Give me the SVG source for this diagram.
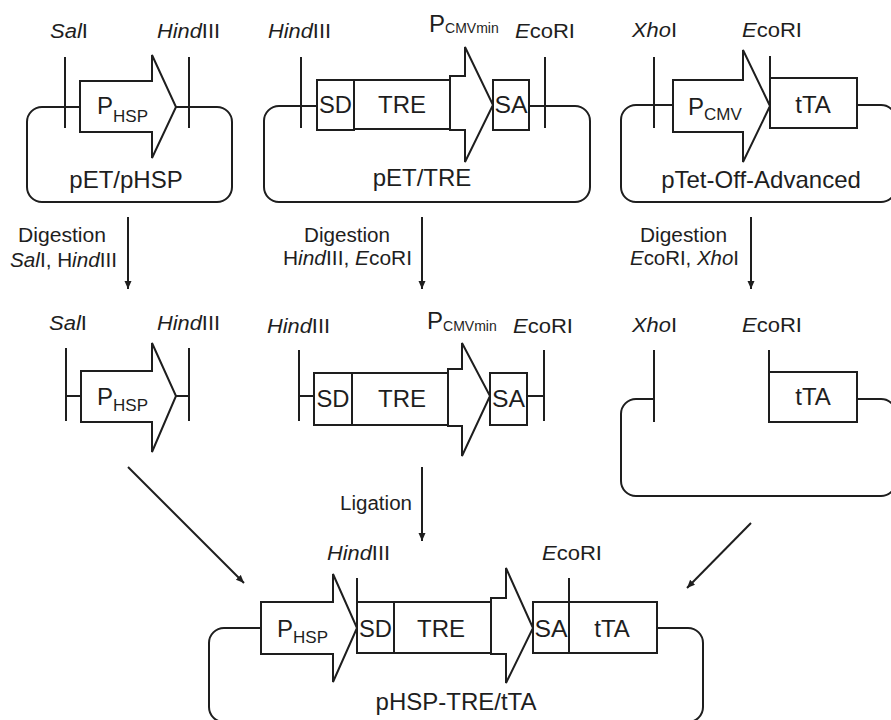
<svg xmlns="http://www.w3.org/2000/svg" width="891" height="720" viewBox="0 0 891 720">
  <style>
    .bb { fill: none; stroke: #1e1e1e; stroke-width: 2; }
    .ln { fill: none; stroke: #1e1e1e; stroke-width: 2; }
    .box { fill: #fff; stroke: #1e1e1e; stroke-width: 2; }
    .ar { fill: none; stroke: #1e1e1e; stroke-width: 2; marker-end: url(#head); }
    text { font-family: "Liberation Sans", Arial, sans-serif; fill: #1e1e1e; }
    .big { font-size: 24px; }
    .sub { font-size: 17px; }
    .subs { font-size: 14px; }
    .enz { font-size: 20px; }
    .mid { text-anchor: middle; }
    .it { font-style: italic; }
  </style>
  <defs>
    <marker id="head" markerUnits="userSpaceOnUse" markerWidth="10" markerHeight="10" refX="8" refY="4" orient="auto">
      <path d="M0,0.5 L8,4 L0,7.5 Z" fill="#1e1e1e"/>
    </marker>
  </defs>
  <rect width="891" height="720" fill="#fff"/>

  <!-- pET/pHSP plasmid -->
  <g id="pET-pHSP">
    <rect class="bb" x="27" y="107" width="205" height="95" rx="15"/>
    <line class="ln" x1="65" y1="57" x2="65" y2="128"/>
    <line class="ln" x1="189" y1="57" x2="189" y2="128"/>
    <path class="box" d="M80,81 H152 V55 L176,107 L152,158 V132 H80 Z"/>
    <text class="big" x="97" y="114">P<tspan class="sub" dy="8">HSP</tspan></text>
    <text class="enz" x="50" y="38" textLength="38" lengthAdjust="spacingAndGlyphs"><tspan class="it">Sal</tspan>I</text>
    <text class="enz" x="157" y="38" textLength="63" lengthAdjust="spacingAndGlyphs"><tspan class="it">Hind</tspan>III</text>
    <text class="big mid" x="126" y="188">pET/pHSP</text>
  </g>

  <!-- pET/TRE plasmid -->
  <g id="pET-TRE">
    <rect class="bb" x="264" y="106" width="326" height="96" rx="15"/>
    <line class="ln" x1="301" y1="57" x2="301" y2="128"/>
    <line class="ln" x1="545" y1="57" x2="545" y2="128"/>
    <rect class="box" x="317" y="80" width="37" height="50"/>
    <rect class="box" x="354" y="80" width="96" height="49"/>
    <path class="box" d="M450,76 H465 V47 L493,105 L465,162 V130 H450 Z"/>
    <rect class="box" x="493" y="80" width="36" height="50"/>
    <text class="big mid" x="335.5" y="113" textLength="33" lengthAdjust="spacingAndGlyphs">SD</text>
    <text class="big mid" x="402" y="113">TRE</text>
    <text class="big mid" x="511" y="113" textLength="33" lengthAdjust="spacingAndGlyphs">SA</text>
    <text class="big" x="429" y="32">P<tspan class="subs" dy="1">CMVmin</tspan></text>
    <text class="enz" x="268" y="38" textLength="63" lengthAdjust="spacingAndGlyphs"><tspan class="it">Hind</tspan>III</text>
    <text class="enz" x="515" y="38" textLength="60" lengthAdjust="spacingAndGlyphs"><tspan class="it">E</tspan>coRI</text>
    <text class="big mid" x="422" y="186">pET/TRE</text>
  </g>

  <!-- pTet-Off-Advanced plasmid -->
  <g id="pTet-Off-Advanced">
    <rect class="bb" x="621" y="105" width="275" height="97" rx="15"/>
    <line class="ln" x1="654" y1="57" x2="654" y2="128"/>
    <line class="ln" x1="770" y1="56" x2="770" y2="78"/>
    <path class="box" d="M673,80 H743 V50 L770,106 L743,162 V132 H673 Z"/>
    <rect class="box" x="770" y="78" width="87" height="50"/>
    <text class="big" x="688" y="115">P<tspan class="sub" dy="5">CMV</tspan></text>
    <text class="big mid" x="813" y="113">tTA</text>
    <text class="enz" x="632" y="37" textLength="45" lengthAdjust="spacingAndGlyphs"><tspan class="it">Xho</tspan>I</text>
    <text class="enz" x="742" y="37" textLength="60" lengthAdjust="spacingAndGlyphs"><tspan class="it">E</tspan>coRI</text>
    <text class="big mid" x="761" y="188">pTet-Off-Advanced</text>
  </g>

  <!-- SalI/HindIII fragment -->
  <g id="frag-PHSP">
    <line class="ln" x1="66" y1="348" x2="66" y2="421"/>
    <line class="ln" x1="189" y1="348" x2="189" y2="421"/>
    <line class="ln" x1="66" y1="396" x2="81" y2="396"/>
    <line class="ln" x1="176" y1="396" x2="189" y2="396"/>
    <path class="box" d="M81,371 H152 V343 L176,396 L152,452 V422 H81 Z"/>
    <text class="big" x="97" y="405">P<tspan class="sub" dy="6">HSP</tspan></text>
    <text class="enz" x="49" y="330" textLength="38" lengthAdjust="spacingAndGlyphs"><tspan class="it">Sal</tspan>I</text>
    <text class="enz" x="157" y="330" textLength="63" lengthAdjust="spacingAndGlyphs"><tspan class="it">Hind</tspan>III</text>
  </g>

  <!-- HindIII/EcoRI fragment -->
  <g id="frag-TRE">
    <line class="ln" x1="299" y1="350" x2="299" y2="421"/>
    <line class="ln" x1="544" y1="350" x2="544" y2="421"/>
    <line class="ln" x1="299" y1="396" x2="314" y2="396"/>
    <line class="ln" x1="527" y1="396" x2="544" y2="396"/>
    <rect class="box" x="314" y="373" width="38" height="52"/>
    <rect class="box" x="352" y="373" width="96" height="52"/>
    <path class="box" d="M448,369 H462 V343 L490,396 L462,456 V426 H448 Z"/>
    <rect class="box" x="490" y="373" width="37" height="52"/>
    <text class="big mid" x="333" y="407" textLength="33" lengthAdjust="spacingAndGlyphs">SD</text>
    <text class="big mid" x="402" y="407">TRE</text>
    <text class="big mid" x="508.5" y="407" textLength="33" lengthAdjust="spacingAndGlyphs">SA</text>
    <text class="big" x="427" y="329">P<tspan class="subs" dy="2">CMVmin</tspan></text>
    <text class="enz" x="267" y="333" textLength="63" lengthAdjust="spacingAndGlyphs"><tspan class="it">Hind</tspan>III</text>
    <text class="enz" x="513" y="333" textLength="60" lengthAdjust="spacingAndGlyphs"><tspan class="it">E</tspan>coRI</text>
  </g>

  <!-- XhoI/EcoRI cut vector -->
  <g id="vector-tTA">
    <path class="bb" d="M654,399 H636 A15,15 0 0 0 621,414 V481 A15,15 0 0 0 636,496 H881 A15,15 0 0 0 896,481 V414 A15,15 0 0 0 881,399 H857"/>
    <line class="ln" x1="654" y1="350" x2="654" y2="422"/>
    <line class="ln" x1="769" y1="350" x2="769" y2="372"/>
    <rect class="box" x="769" y="372" width="88" height="50"/>
    <text class="big mid" x="813" y="405">tTA</text>
    <text class="enz" x="632" y="332" textLength="45" lengthAdjust="spacingAndGlyphs"><tspan class="it">Xho</tspan>I</text>
    <text class="enz" x="742" y="332" textLength="60" lengthAdjust="spacingAndGlyphs"><tspan class="it">E</tspan>coRI</text>
  </g>

  <!-- pHSP-TRE/tTA product -->
  <g id="pHSP-TRE-tTA">
    <rect class="bb" x="209" y="628" width="494" height="94" rx="15"/>
    <line class="ln" x1="357" y1="578" x2="357" y2="602"/>
    <line class="ln" x1="569" y1="578" x2="569" y2="602"/>
    <path class="box" d="M261,602 H333 V574 L357,628 L333,682 V654 H261 Z"/>
    <rect class="box" x="357" y="602" width="37" height="51"/>
    <rect class="box" x="394" y="602" width="97" height="51"/>
    <path class="box" d="M491,598 H506 V568 L533,628 L506,683 V654 H491 Z"/>
    <rect class="box" x="533" y="602" width="36" height="51"/>
    <rect class="box" x="569" y="602" width="88" height="51"/>
    <text class="big" x="277" y="637">P<tspan class="sub" dy="6">HSP</tspan></text>
    <text class="big mid" x="375.5" y="637" textLength="33" lengthAdjust="spacingAndGlyphs">SD</text>
    <text class="big mid" x="441" y="637">TRE</text>
    <text class="big mid" x="551" y="637" textLength="33" lengthAdjust="spacingAndGlyphs">SA</text>
    <text class="big mid" x="612" y="637">tTA</text>
    <text class="enz" x="327" y="560" textLength="63" lengthAdjust="spacingAndGlyphs"><tspan class="it">Hind</tspan>III</text>
    <text class="enz" x="542" y="560" textLength="60" lengthAdjust="spacingAndGlyphs"><tspan class="it">E</tspan>coRI</text>
    <text class="big mid" x="456" y="710">pHSP-TRE/tTA</text>
  </g>

  <!-- process arrows and step labels -->
  <g id="connectors">
    <line class="ar" x1="128" y1="217" x2="128" y2="289"/>
    <line class="ar" x1="422" y1="217" x2="422" y2="289"/>
    <line class="ar" x1="751" y1="217" x2="751" y2="289"/>
    <line class="ar" x1="422" y1="467" x2="422" y2="541"/>
    <line class="ar" x1="128" y1="467" x2="244" y2="583"/>
    <line class="ar" x1="751" y1="523" x2="687" y2="588"/>
    <text class="enz mid" x="62" y="242" textLength="88" lengthAdjust="spacingAndGlyphs">Digestion</text>
    <text class="enz mid" x="63.5" y="267" textLength="107" lengthAdjust="spacingAndGlyphs"><tspan class="it">Sal</tspan>I, H<tspan class="it">ind</tspan>III</text>
    <text class="enz mid" x="347" y="242" textLength="86" lengthAdjust="spacingAndGlyphs">Digestion</text>
    <text class="enz mid" x="347.5" y="265" textLength="129" lengthAdjust="spacingAndGlyphs">H<tspan class="it">ind</tspan>III, <tspan class="it">E</tspan>coRI</text>
    <text class="enz mid" x="683.5" y="242" textLength="87" lengthAdjust="spacingAndGlyphs">Digestion</text>
    <text class="enz mid" x="684.5" y="265" textLength="109" lengthAdjust="spacingAndGlyphs"><tspan class="it">E</tspan>coRI, <tspan class="it">Xho</tspan>I</text>
    <text class="enz mid" x="376" y="510" textLength="72" lengthAdjust="spacingAndGlyphs">Ligation</text>
  </g>
</svg>
